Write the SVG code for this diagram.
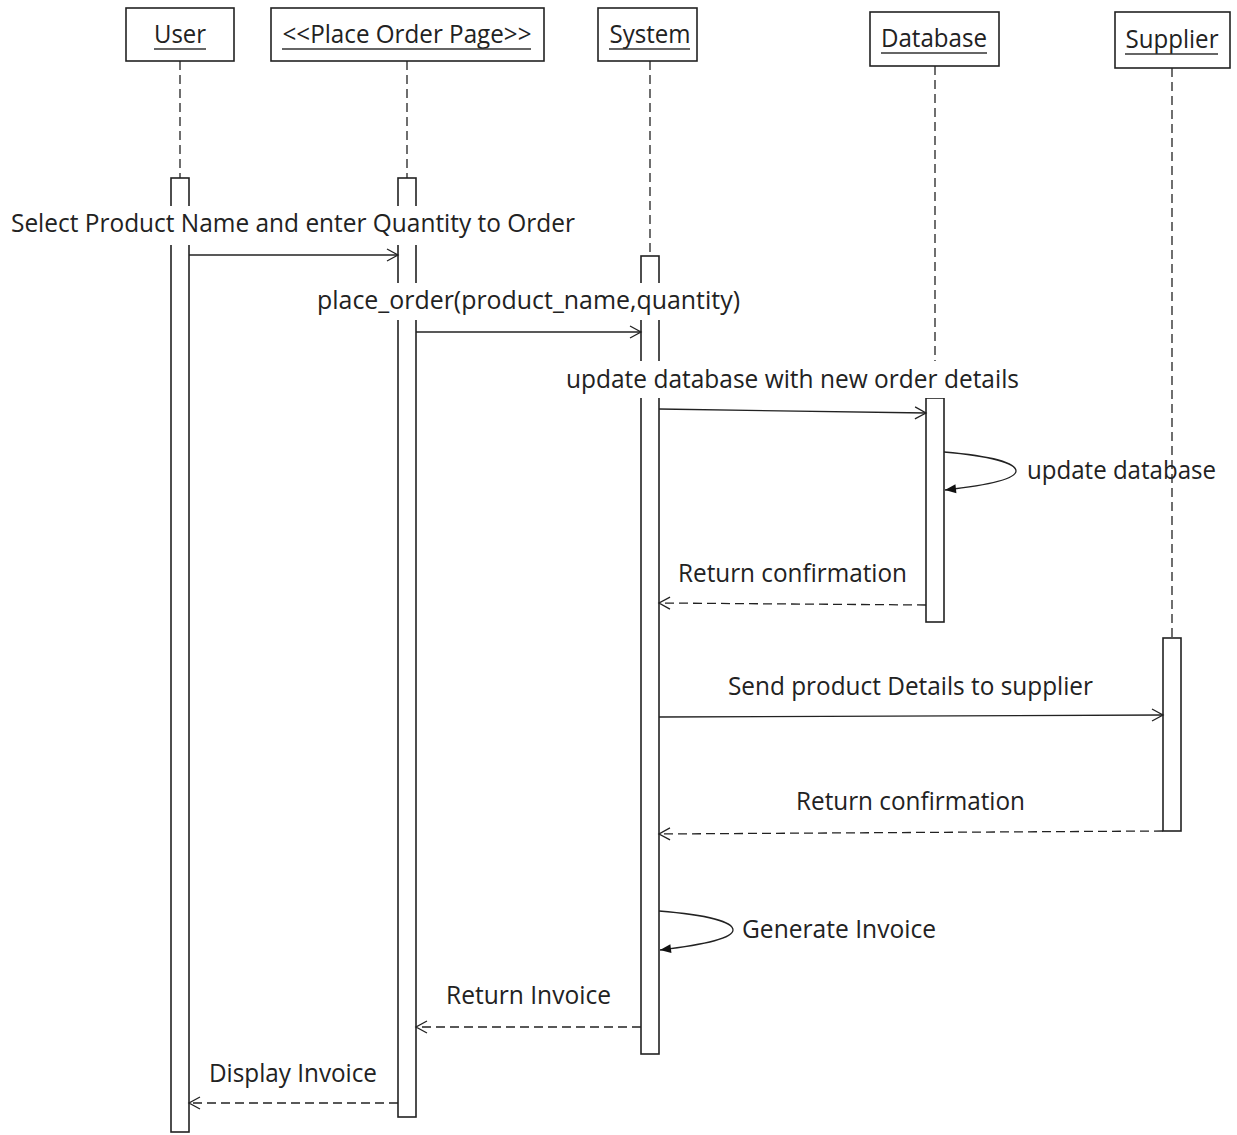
<svg xmlns="http://www.w3.org/2000/svg" width="1237" height="1135" viewBox="0 0 1237 1135">
  <style>
    .box { fill: #fff; stroke: #222; stroke-width: 1.6; }
    .ul { stroke: #333; stroke-width: 1.5; }
    .life { stroke: #222; stroke-width: 1.3; stroke-dasharray: 9 5; fill: none; }
    .act { fill: #fff; stroke: #222; stroke-width: 1.6; }
    .msg { stroke: #222; stroke-width: 1.3; fill: none; }
    .ret { stroke: #222; stroke-width: 1.3; fill: none; stroke-dasharray: 9 5; }
    .self { stroke: #222; stroke-width: 1.3; fill: none; }
    .t { font-family: "Open Sans", "Noto Sans", sans-serif; font-size: 26px; fill: #222; }
    .hd { font-family: "Open Sans", "Noto Sans", sans-serif; font-size: 25px; fill: #222; text-anchor: middle; }
    .bg { fill: #fff; }
  </style>
  <defs>
    <marker id="open" markerWidth="14" markerHeight="14" refX="12" refY="7" orient="auto" markerUnits="userSpaceOnUse">
      <path d="M1,1 L12,7 L1,13" fill="none" stroke="#222" stroke-width="1.3"/>
    </marker>
    <marker id="solid" markerWidth="14" markerHeight="12" refX="12" refY="6" orient="auto" markerUnits="userSpaceOnUse">
      <path d="M1,1.5 L12,6 L1,10.5 Z" fill="#111"/>
    </marker>
  </defs>
  <rect width="1237" height="1135" fill="#fff"/>

  <!-- lifelines -->
  <g id="lifelines">
    <line class="life" x1="180" y1="61" x2="180" y2="178"/>
    <line class="life" x1="407" y1="61" x2="407" y2="178"/>
    <line class="life" x1="650" y1="61" x2="650" y2="256"/>
    <line class="life" x1="935" y1="66" x2="935" y2="398"/>
    <line class="life" x1="1172" y1="68" x2="1172" y2="638"/>
  </g>

  <!-- participants -->
  <g id="user">
    <rect class="box" x="126" y="8" width="108" height="53"/>
    <text class="hd" x="180" y="43" textLength="52" lengthAdjust="spacingAndGlyphs">User</text>
    <line class="ul" x1="154" y1="49" x2="206" y2="49"/>
    <rect class="act" x="171" y="178" width="18" height="954"/>
  </g>
  <g id="place-order-page">
    <rect class="box" x="271" y="8" width="273" height="53"/>
    <text class="hd" x="407" y="43" textLength="249" lengthAdjust="spacingAndGlyphs">&lt;&lt;Place Order Page&gt;&gt;</text>
    <line class="ul" x1="282" y1="49" x2="531" y2="49"/>
    <rect class="act" x="398" y="178" width="18" height="939"/>
  </g>
  <g id="system">
    <rect class="box" x="598" y="8" width="99" height="53"/>
    <text class="hd" x="650" y="43" textLength="81" lengthAdjust="spacingAndGlyphs">System</text>
    <line class="ul" x1="609" y1="49" x2="690" y2="49"/>
    <rect class="act" x="641" y="256" width="18" height="798"/>
  </g>
  <g id="database">
    <rect class="box" x="870" y="12" width="129" height="54"/>
    <text class="hd" x="934" y="47" textLength="106" lengthAdjust="spacingAndGlyphs">Database</text>
    <line class="ul" x1="881" y1="53" x2="987" y2="53"/>
    <rect class="act" x="926" y="398" width="18" height="224"/>
  </g>
  <g id="supplier">
    <rect class="box" x="1115" y="12" width="115" height="56"/>
    <text class="hd" x="1172" y="48" textLength="93" lengthAdjust="spacingAndGlyphs">Supplier</text>
    <line class="ul" x1="1125" y1="54" x2="1218" y2="54"/>
    <rect class="act" x="1163" y="638" width="18" height="193"/>
  </g>

  <!-- messages -->
  <g id="connectors">
    <line class="msg" x1="189" y1="255" x2="398" y2="255" marker-end="url(#open)"/>
    <line class="msg" x1="416" y1="332" x2="641" y2="332" marker-end="url(#open)"/>
    <line class="msg" x1="659" y1="409" x2="926" y2="413" marker-end="url(#open)"/>
    <path class="self" d="M944,452 C990,456 1016,463 1016,471 C1016,479 990,485 945,490" marker-end="url(#solid)"/>
    <line class="ret" x1="926" y1="605" x2="659" y2="603" marker-end="url(#open)"/>
    <line class="msg" x1="659" y1="717" x2="1163" y2="715" marker-end="url(#open)"/>
    <line class="ret" x1="1163" y1="831" x2="659" y2="834" marker-end="url(#open)"/>
    <path class="self" d="M659,911 C708,915 733,922 733,930 C733,938 708,944 660,950" marker-end="url(#solid)"/>
    <line class="ret" x1="641" y1="1027" x2="416" y2="1027" marker-end="url(#open)"/>
    <line class="ret" x1="398" y1="1103" x2="189" y2="1103" marker-end="url(#open)"/>
  </g>

  <!-- message labels -->
  <g id="labels">
    <rect class="bg" x="11" y="206" width="564" height="39"/>
    <text class="t" x="11" y="232" textLength="564" lengthAdjust="spacingAndGlyphs">Select Product Name and enter Quantity to Order</text>
    <rect class="bg" x="317" y="283" width="423" height="37"/>
    <text class="t" x="317" y="309" textLength="423" lengthAdjust="spacingAndGlyphs">place_order(product_name,quantity)</text>
    <rect class="bg" x="566" y="361" width="453" height="37"/>
    <text class="t" x="566" y="388" textLength="453" lengthAdjust="spacingAndGlyphs">update database with new order details</text>
    <text class="t" x="1027" y="479" textLength="189" lengthAdjust="spacingAndGlyphs">update database</text>
    <text class="t" x="678" y="582" textLength="229" lengthAdjust="spacingAndGlyphs">Return confirmation</text>
    <text class="t" x="728" y="695" textLength="365" lengthAdjust="spacingAndGlyphs">Send product Details to supplier</text>
    <text class="t" x="796" y="810" textLength="229" lengthAdjust="spacingAndGlyphs">Return confirmation</text>
    <text class="t" x="742" y="938" textLength="194" lengthAdjust="spacingAndGlyphs">Generate Invoice</text>
    <text class="t" x="446" y="1004" textLength="165" lengthAdjust="spacingAndGlyphs">Return Invoice</text>
    <text class="t" x="209" y="1082" textLength="168" lengthAdjust="spacingAndGlyphs">Display Invoice</text>
  </g>
</svg>
